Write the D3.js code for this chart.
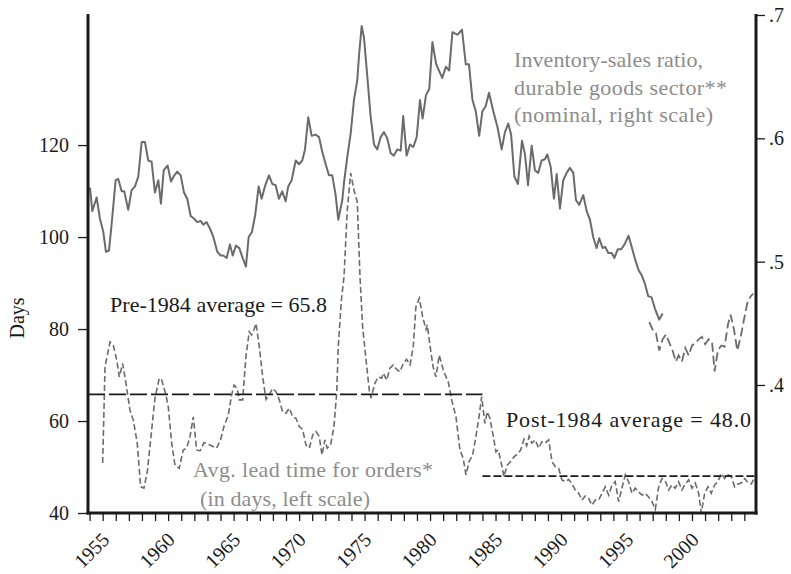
<!DOCTYPE html>
<html>
<head>
<meta charset="utf-8">
<script src="https://cdn.jsdelivr.net/npm/d3@7/dist/d3.min.js"></script>
<style>
  body { margin: 0; background: #fff; }
  svg text { font-family: 'Liberation Serif', 'DejaVu Serif', serif; }
</style>
</head>
<body>
<div id="container"></div>
<script>
var WIDTH = 791,
    HEIGHT = 574;

// inventory-sales ratio, durable goods (SIC basis), [year, ratio]
var invRatio = [
  [1954.03,.560],[1954.21,.541],[1954.54,.552],[1954.79,.535],[1955.05,.524],[1955.25,.508],[1955.48,.509],[1955.69,.531],
  [1955.99,.566],[1956.19,.567],[1956.45,.557],[1956.65,.557],[1956.95,.542],[1957.21,.558],[1957.47,.561],[1957.72,.569],
  [1957.98,.597],[1958.23,.597],[1958.48,.582],[1958.74,.581],[1958.99,.556],[1959.25,.566],[1959.45,.547],[1959.66,.574],
  [1959.96,.578],[1960.22,.565],[1960.47,.570],[1960.70,.573],[1960.96,.570],[1961.21,.556],[1961.46,.551],[1961.72,.537],
  [1961.97,.535],[1962.22,.532],[1962.48,.533],[1962.68,.530],[1962.94,.532],[1963.19,.527],[1963.45,.520],[1963.75,.508],
  [1964.01,.505],[1964.21,.505],[1964.47,.503],[1964.72,.514],[1964.93,.505],[1965.18,.513],[1965.43,.511],[1965.69,.503],
  [1965.94,.496],[1966.15,.520],[1966.40,.524],[1966.65,.538],[1966.91,.561],[1967.14,.551],[1967.39,.561],[1967.70,.570],
  [1967.95,.563],[1968.21,.562],[1968.46,.551],[1968.71,.557],[1968.97,.549],[1969.17,.561],[1969.43,.566],[1969.74,.582],
  [1969.99,.579],[1970.24,.582],[1970.45,.591],[1970.70,.617],[1970.96,.602],[1971.26,.603],[1971.52,.601],[1971.77,.589],
  [1972.03,.579],[1972.28,.570],[1972.53,.570],[1972.79,.554],[1972.99,.534],[1973.30,.550],[1973.43,.564],[1973.68,.585],
  [1973.94,.604],[1974.19,.631],[1974.44,.647],[1974.59,.669],[1974.78,.691],[1974.95,.682],[1975.21,.650],[1975.46,.618],
  [1975.72,.595],[1975.97,.591],[1976.23,.601],[1976.48,.605],[1976.73,.600],[1976.99,.588],[1977.24,.586],[1977.50,.591],
  [1977.76,.590],[1977.95,.618],[1978.21,.586],[1978.47,.595],[1978.72,.593],[1978.98,.601],[1979.23,.631],[1979.43,.616],
  [1979.69,.635],[1979.94,.640],[1980.18,.678],[1980.47,.660],[1980.93,.649],[1981.21,.658],[1981.46,.655],[1981.71,.686],
  [1982.09,.684],[1982.44,.688],[1982.73,.660],[1982.97,.660],[1983.24,.631],[1983.49,.622],[1983.75,.602],[1984.00,.622],
  [1984.25,.626],[1984.50,.637],[1984.83,.622],[1985.15,.609],[1985.47,.591],[1985.72,.605],[1985.97,.612],[1986.19,.603],
  [1986.44,.569],[1986.71,.563],[1987.02,.598],[1987.25,.587],[1987.48,.562],[1987.76,.594],[1988.01,.574],[1988.26,.572],
  [1988.52,.582],[1988.77,.583],[1988.95,.587],[1989.21,.577],[1989.46,.551],[1989.67,.571],[1989.92,.543],[1990.17,.566],
  [1990.43,.572],[1990.68,.576],[1990.94,.572],[1991.14,.550],[1991.39,.546],[1991.70,.554],[1991.96,.541],[1992.21,.534],
  [1992.46,.520],[1992.72,.511],[1992.92,.519],[1993.18,.511],[1993.38,.512],[1993.61,.507],[1993.87,.507],[1994.08,.503],
  [1994.33,.510],[1994.60,.510],[1994.85,.514],[1995.16,.521],[1995.42,.511],[1995.68,.501],[1995.93,.493],[1996.16,.489],
  [1996.41,.482],[1996.66,.472],[1996.92,.471],[1997.17,.462],[1997.50,.453],[1997.76,.458]
];

// inventory-sales ratio after the switch to NAICS, [year, ratio]
var invRatioNaics = [
  [1996.74,.451],[1997.04,.444],[1997.25,.442],[1997.50,.428],[1997.76,.437],[1998.01,.441],[1998.32,.433],[1998.52,.428],
  [1998.77,.419],[1998.98,.424],[1999.23,.419],[1999.49,.430],[1999.75,.424],[2000.00,.432],[2000.25,.434],[2000.51,.437],
  [2000.76,.439],[2001.01,.433],[2001.27,.437],[2001.53,.435],[2001.73,.411],[2001.98,.428],[2002.24,.432],[2002.49,.431],
  [2002.75,.449],[2002.95,.457],[2003.21,.445],[2003.46,.428],[2003.72,.439],[2003.97,.453],[2004.22,.466],[2004.49,.472],
  [2004.68,.474]
];

// average lead time for orders, days, [year, days]
var leadTime = [
  [1955.00,50.9],[1955.18,71.8],[1955.56,77.2],[1955.81,76.5],[1956.07,73.3],[1956.27,69.6],[1956.53,72.5],[1956.78,68.2],
  [1957.08,62.4],[1957.34,60.2],[1957.64,55.2],[1957.90,45.7],[1958.15,45.4],[1958.41,49.0],[1958.74,58.0],[1958.99,64.9],
  [1959.32,69.3],[1959.51,68.9],[1959.83,65.7],[1960.01,63.1],[1960.27,55.2],[1960.52,50.4],[1960.85,49.7],[1961.15,53.7],
  [1961.41,54.1],[1961.67,56.6],[1961.92,60.9],[1962.18,53.7],[1962.43,53.5],[1962.74,55.3],[1963.19,54.8],[1963.70,54.1],
  [1964.01,56.0],[1964.26,58.8],[1964.59,61.3],[1964.85,65.7],[1965.03,67.8],[1965.28,67.1],[1965.43,64.6],[1965.69,64.6],
  [1965.94,74.0],[1966.19,79.4],[1966.38,78.7],[1966.55,79.8],[1966.71,81.2],[1966.96,76.2],[1967.22,69.6],[1967.47,64.7],
  [1967.72,65.7],[1967.98,67.1],[1968.23,66.4],[1968.49,64.6],[1968.74,62.0],[1969.00,61.7],[1969.25,62.8],[1969.51,60.9],
  [1969.76,60.6],[1970.01,58.8],[1970.27,58.2],[1970.52,54.8],[1970.78,54.1],[1971.04,57.0],[1971.29,57.7],[1971.54,56.6],
  [1971.75,52.6],[1971.97,55.9],[1972.15,54.1],[1972.41,54.8],[1972.66,58.8],[1972.87,66.0],[1972.99,76.2],[1973.23,86.3],
  [1973.43,91.4],[1973.68,105.9],[1973.94,113.9],[1974.19,110.2],[1974.44,107.7],[1974.65,91.4],[1974.85,80.5],[1975.11,73.3],
  [1975.36,66.7],[1975.49,65.0],[1975.79,68.2],[1976.04,69.6],[1976.30,69.3],[1976.43,70.4],[1976.69,68.9],[1976.94,71.5],
  [1977.19,72.2],[1977.45,71.2],[1977.70,70.7],[1977.95,72.5],[1978.21,73.4],[1978.47,72.2],[1978.72,76.2],[1978.92,84.8],
  [1979.18,86.7],[1979.43,82.7],[1979.69,79.9],[1979.79,80.9],[1979.99,76.5],[1980.24,71.7],[1980.45,69.6],[1980.70,74.3],
  [1981.01,71.1],[1981.39,68.5],[1981.65,64.6],[1981.98,60.9],[1982.28,53.7],[1982.53,51.9],[1982.74,48.3],[1982.99,51.2],
  [1983.25,52.6],[1983.50,56.6],[1983.76,61.3],[1983.94,65.3],[1984.19,59.5],[1984.37,62.0],[1984.57,60.6],[1984.83,56.7],
  [1985.03,53.3],[1985.21,53.7],[1985.47,50.4],[1985.64,47.9],[1985.89,50.4],[1986.15,51.2],[1986.41,52.2],[1986.66,52.8],
  [1986.92,53.7],[1987.17,56.0],[1987.38,54.6],[1987.57,56.7],[1987.78,55.2],[1988.03,55.9],[1988.29,54.1],[1988.54,55.5],
  [1988.80,55.2],[1989.06,55.9],[1989.31,51.2],[1989.56,50.1],[1989.82,49.7],[1990.07,47.2],[1990.33,46.8],[1990.58,47.3],
  [1990.84,46.3],[1991.09,45.0],[1991.35,44.3],[1991.60,42.8],[1991.85,43.7],[1992.11,43.2],[1992.36,41.7],[1992.62,42.8],
  [1992.87,42.8],[1993.13,44.3],[1993.38,45.7],[1993.64,43.9],[1993.89,46.1],[1994.14,46.8],[1994.40,42.5],[1994.65,45.4],
  [1994.91,48.3],[1995.16,46.8],[1995.42,44.3],[1995.67,45.4],[1995.93,44.6],[1996.18,43.9],[1996.43,44.3],[1996.69,43.5],
  [1996.94,42.5],[1997.20,40.8],[1997.46,45.7],[1997.71,47.5],[1997.96,47.0],[1998.22,45.0],[1998.47,46.1],[1998.72,45.4],
  [1998.98,46.8],[1999.23,45.0],[1999.49,46.3],[1999.75,47.2],[2000.00,45.4],[2000.25,46.5],[2000.51,44.3],[2000.71,40.0],
  [2000.97,44.3],[2001.22,45.7],[2001.47,44.3],[2001.73,46.1],[2001.98,46.8],[2002.24,48.6],[2002.50,47.5],[2002.75,48.3],
  [2003.00,47.9],[2003.26,45.7],[2003.51,46.3],[2003.76,46.5],[2004.02,47.5],[2004.27,46.6],[2004.53,46.3],[2004.73,47.5]
];

// period averages of lead time: [start, end, days]
var averages = [
  [1953.88, 1984.0, 65.8],
  [1984.0, 2004.89, 48.0]
];
var averageLabels = ['Pre-1984 average = 65.8', 'Post-1984 average = 48.0'];

var leftTicks = [40, 60, 80, 100, 120],
    rightTicks = [0.4, 0.5, 0.6, 0.7],
    rightTickLabels = ['.4', '.5', '.6', '.7'],
    yearTicks = d3.range(1954, 2005),
    yearLabels = [1955, 1960, 1965, 1970, 1975, 1980, 1985, 1990, 1995, 2000];

var invNote = ['Inventory-sales ratio,', 'durable goods sector**', '(nominal, right scale)'],
    leadNote = ['Avg. lead time for orders*', '(in days, left scale)'];

var LEFT = 88, RIGHT = 756, TOP = 14, BOTTOM = 513;
var GRAY_LINE = '#6b6b6b', GRAY_TEXT = '#8c8c8c';

var x = d3.scaleLinear().domain([1953.88, 2004.89]).range([LEFT, RIGHT]);
var yDays = d3.scaleLinear().domain([40, 148.5]).range([BOTTOM, TOP]);
var yRatio = d3.scaleLinear().domain([0.2962, 0.7008]).range([BOTTOM, TOP]);

var svg = d3.select('#container').append('svg')
    .attr('width', WIDTH)
    .attr('height', HEIGHT);

// series
var invLine = d3.line().x(function(d){ return x(d[0]); }).y(function(d){ return yRatio(d[1]); });
var leadLine = d3.line().x(function(d){ return x(d[0]); }).y(function(d){ return yDays(d[1]); });

svg.append('path')
    .datum(invRatio)
    .attr('d', invLine)
    .attr('fill', 'none')
    .attr('stroke', GRAY_LINE)
    .attr('stroke-width', 2)
    .attr('stroke-linejoin', 'round');

svg.append('path')
    .datum(invRatioNaics)
    .attr('d', invLine)
    .attr('fill', 'none')
    .attr('stroke', GRAY_LINE)
    .attr('stroke-width', 1.8)
    .attr('stroke-dasharray', '9,4');

svg.append('path')
    .datum(leadTime)
    .attr('d', leadLine)
    .attr('fill', 'none')
    .attr('stroke', GRAY_LINE)
    .attr('stroke-width', 1.6)
    .attr('stroke-dasharray', '6,3');

// average lines
svg.selectAll('line.avg')
    .data(averages)
    .enter()
    .append('line')
      .attr('class', 'avg')
      .attr('x1', function(d){ return x(d[0]); })
      .attr('x2', function(d){ return x(d[1]); })
      .attr('y1', function(d){ return yDays(d[2]); })
      .attr('y2', function(d){ return yDays(d[2]); })
      .attr('stroke', '#1a1a1a')
      .attr('stroke-width', 1.8)
      .attr('stroke-dasharray', function(d,i){ return i == 0 ? '17,4' : '8,3'; });

svg.append('text')
    .attr('x', 110).attr('y', 312)
    .attr('font-size', 22)
    .attr('textLength', 217)
    .attr('fill', '#1a1a1a')
    .text(averageLabels[0]);
svg.append('text')
    .attr('x', 506).attr('y', 427)
    .attr('font-size', 22)
    .attr('textLength', 245)
    .attr('fill', '#1a1a1a')
    .text(averageLabels[1]);

// notes
var invNoteWidth = [189, 213, 199],
    leadNoteWidth = [240, 170];

svg.selectAll('text.inv')
    .data(invNote)
    .enter()
    .append('text')
      .attr('class', 'inv')
      .attr('x', 514)
      .attr('y', function(d,i){ return 67 + i*27.5; })
      .attr('font-size', 22)
      .attr('textLength', function(d,i){ return invNoteWidth[i]; })
      .attr('fill', GRAY_TEXT)
      .text(function(d){ return d; });

svg.selectAll('text.lead')
    .data(leadNote)
    .enter()
    .append('text')
      .attr('class', 'lead')
      .attr('x', function(d,i){ return i == 0 ? 193 : 200; })
      .attr('y', function(d,i){ return 477 + i*29; })
      .attr('font-size', 22)
      .attr('textLength', function(d,i){ return leadNoteWidth[i]; })
      .attr('fill', GRAY_TEXT)
      .text(function(d){ return d; });

// axes
var leftAxis = svg.append('g')
    .attr('transform', 'translate(' + LEFT + ',0)')
    .call(d3.axisLeft(yDays).tickValues(leftTicks).tickSize(10).tickPadding(9).tickSizeOuter(0));
var rightAxis = svg.append('g')
    .attr('transform', 'translate(' + RIGHT + ',0)')
    .call(d3.axisRight(yRatio).tickValues(rightTicks).tickSize(9).tickPadding(4).tickSizeOuter(0)
      .tickFormat(function(d,i){ return rightTickLabels[i]; }));
var bottomAxis = svg.append('g')
    .attr('transform', 'translate(0,' + BOTTOM + ')')
    .call(d3.axisBottom(x).tickValues(yearTicks).tickSize(8).tickSizeOuter(0).tickFormat(''));

[leftAxis, rightAxis, bottomAxis].forEach(function(g) {
  g.select('.domain').attr('stroke', '#1a1a1a').attr('stroke-width', 3);
  g.selectAll('.tick line').attr('stroke', '#1a1a1a').attr('stroke-width', 1.3);
  g.selectAll('.tick text')
    .attr('font-family', "'Liberation Serif', serif")
    .attr('font-size', 20)
    .attr('fill', '#1a1a1a');
});
leftAxis.select('.domain').attr('d', 'M0,' + TOP + 'V' + (BOTTOM + 1.5));
rightAxis.select('.domain').attr('d', 'M0,' + TOP + 'V' + (BOTTOM + 1.5));
bottomAxis.select('.domain').attr('d', 'M' + (LEFT - 1.5) + ',0H' + (RIGHT + 1.5));

// rotated year labels
svg.selectAll('text.year')
    .data(yearLabels)
    .enter()
    .append('text')
      .attr('class', 'year')
      .attr('text-anchor', 'end')
      .attr('font-size', 20)
      .attr('fill', '#1a1a1a')
      .attr('transform', function(d){ return 'translate(' + (x(d) + 8) + ',' + (BOTTOM + 28) + ') rotate(-45)'; })
      .text(function(d){ return d; });

svg.append('text')
    .attr('transform', 'translate(24,318) rotate(-90)')
    .attr('text-anchor', 'middle')
    .attr('font-size', 20)
    .attr('fill', '#1a1a1a')
    .text('Days');
</script>
</body>
</html>
